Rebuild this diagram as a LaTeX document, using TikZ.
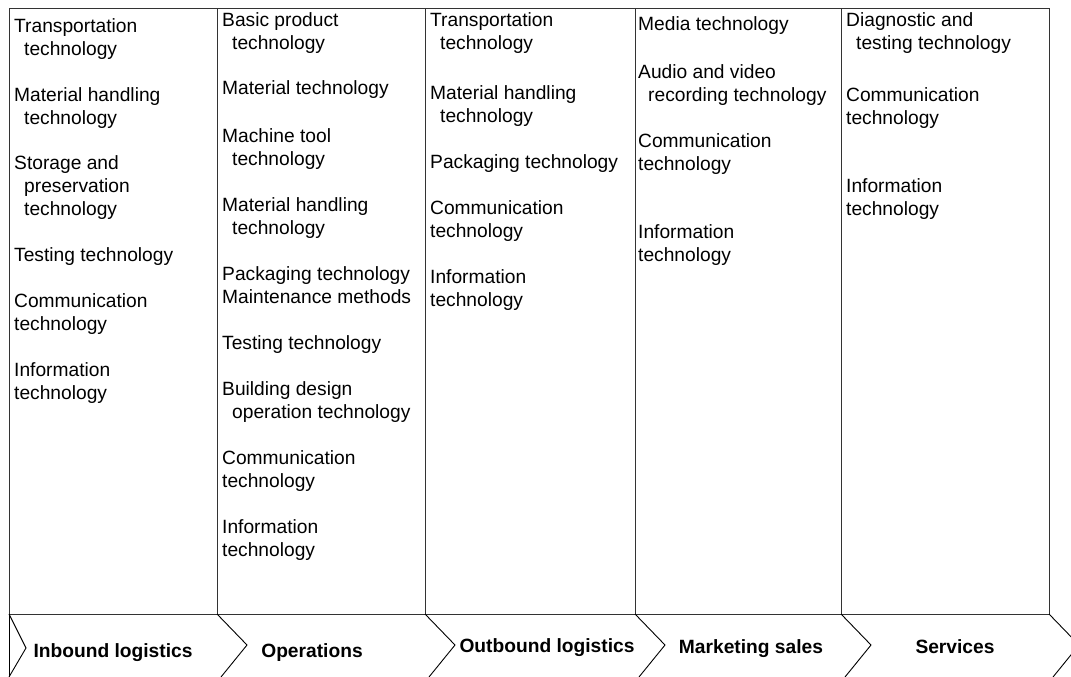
\documentclass[tikz,border=0pt]{standalone}
\usepackage{fontspec}
\setmainfont{Liberation Sans}
\begin{document}
\begin{tikzpicture}[x=1pt,y=-1pt,
  frame/.style={draw=black!80, line width=1pt},
  chev/.style={draw=black, line width=0.9pt, line join=miter},
  item/.style={anchor=base west, inner sep=0pt, align=left, font=\fontsize{19.2}{23}\selectfont},
  stage/.style={anchor=base, inner sep=0pt, font=\fontsize{19.2}{23}\selectfont\bfseries}]
\newcommand{\ind}{\hspace*{10pt}}
\useasboundingbox (0,0) rectangle (1071,677);
\clip (0,0) rectangle (1071,677);
\fill[white] (0,0) rectangle (1071,677);
% frame
\coordinate (tl) at (9,9);
\coordinate (br) at (1049,614);
\draw[frame] (tl) rectangle (br);
\foreach \x/\n in {217/a,425/b,635/c,841/d}{
  \coordinate (t\n) at (\x,9);
  \coordinate (b\n) at (\x,614);
  \draw[frame] (t\n) -- (b\n);
}
% chevrons
\draw[chev] (9,614) -- (9,677);
\draw[chev] (9,614) -- (26,648) -- (9,677);
\foreach \x in {217,425,635,841,1049}{
  \draw[chev] (\x,614) -- (\x+30,645) -- (\x+4,677);
}
% (node positions give the baseline of the LAST line of each item)
% column 1
\node[item] (i11) at (14,56) {Transportation\\\ind technology};
\node[item] (i12) at (14,124) {Material handling\\\ind technology};
\node[item] (i13) at (14,215) {Storage and\\\ind preservation\\\ind technology};
\node[item] (i14) at (14,261) {Testing technology};
\node[item] (i15) at (14,330) {Communication\\technology};
\node[item] (i16) at (14,399) {Information\\technology};
% column 2
\node[item] (i21) at (222,49) {Basic product\\\ind technology};
\node[item] (i22) at (222,95) {Material technology};
\node[item] (i23) at (222,165) {Machine tool\\\ind technology};
\node[item] (i24) at (222,234) {Material handling\\\ind technology};
\node[item] (i25) at (222,303) {Packaging technology\\Maintenance methods};
\node[item] (i26) at (222,349) {Testing technology};
\node[item] (i27) at (222,418) {Building design\\\ind operation technology};
\node[item] (i28) at (222,487) {Communication\\technology};
\node[item] (i29) at (222,556) {Information\\technology};
% column 3
\node[item] (i31) at (430,49) {Transportation\\\ind technology};
\node[item] (i32) at (430,122) {Material handling\\\ind technology};
\node[item] (i33) at (430,168) {Packaging technology};
\node[item] (i34) at (430,237) {Communication\\technology};
\node[item] (i35) at (430,306) {Information\\technology};
% column 4
\node[item] (i41) at (638,31) {Media technology};
\node[item] (i42) at (638,101) {Audio and video\\\ind recording technology};
\node[item] (i43) at (638,170) {Communication\\technology};
\node[item] (i44) at (638,261) {Information\\technology};
% column 5
\node[item] (i51) at (846,49) {Diagnostic and\\\ind testing technology};
\node[item] (i52) at (846,124) {Communication\\technology};
\node[item] (i53) at (846,215) {Information\\technology};
% stages
\node[stage] (s1) at (113,657) {Inbound logistics};
\node[stage] (s2) at (312,657) {Operations};
\node[stage] (s3) at (547,652) {Outbound logistics};
\node[stage] (s4) at (751,653) {Marketing sales};
\node[stage] (s5) at (955,653) {Services};
\end{tikzpicture}
\end{document}
